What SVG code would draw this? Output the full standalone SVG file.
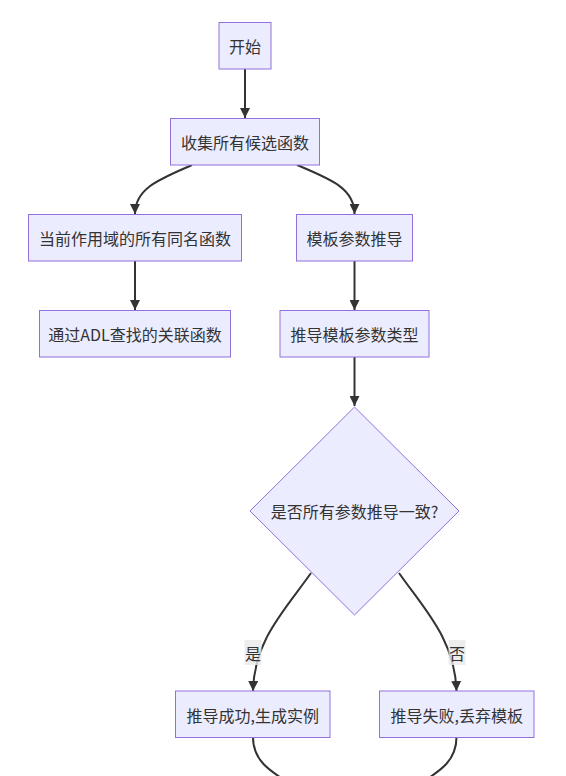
<svg xmlns="http://www.w3.org/2000/svg" width="566" height="776" viewBox="0 0 566 776">
<defs>
<marker id="arr" viewBox="0 0 10 10" refX="10" refY="5" markerWidth="10" markerHeight="10" markerUnits="userSpaceOnUse" orient="auto">
<path d="M0,0 L10,5 L0,10 z" fill="#333"/>
</marker>
</defs>
<style>
.node rect,.node polygon{fill:#ECECFF;stroke:#9370DB;stroke-width:1}
text{font-family:"Noto Sans CJK SC","Liberation Sans",sans-serif;font-size:16px;fill:#333;text-anchor:middle;dominant-baseline:central}
.edges path{fill:none;stroke:#333;stroke-width:2}
.lbl rect{fill:#e8e8e8;opacity:0.8}
</style>
<rect width="566" height="776" fill="#fff"/>
<g class="edges">
<path d="M245,69 L245,118" marker-end="url(#arr)"/>
<path d="M192,165 C160,179 135,188 135,214" marker-end="url(#arr)"/>
<path d="M297,165 C330,179 354.5,188 354.5,214" marker-end="url(#arr)"/>
<path d="M135,261 L135,310" marker-end="url(#arr)"/>
<path d="M354.5,261 L354.5,310" marker-end="url(#arr)"/>
<path d="M354.5,357 L354.5,406" marker-end="url(#arr)"/>
<path d="M311,573 C285,610 254,640 253,691" marker-end="url(#arr)"/>
<path d="M399,573 C425,610 455,640 456.5,691" marker-end="url(#arr)"/>
<path d="M253,737 C253,760 268,770 292,785"/>
<path d="M456.5,737 C456.5,760 442,770 418,785"/>
</g>
<g class="lbl" id="lbl-yes"><rect x="244.5" y="640" width="17" height="25"/><text x="253" y="652.5">是</text></g>
<g class="lbl" id="lbl-no"><rect x="448.5" y="640" width="17" height="25"/><text x="457" y="652.5">否</text></g>
<g class="node" id="start"><rect x="219" y="22.5" width="52" height="46.5"/><text x="245" y="46">开始</text></g>
<g class="node" id="collect"><rect x="170.5" y="118.5" width="149" height="46.5"/><text x="245" y="142">收集所有候选函数</text></g>
<g class="node" id="scope"><rect x="28.5" y="214.5" width="213" height="46.5"/><text x="135" y="238">当前作用域的所有同名函数</text></g>
<g class="node" id="deduce"><rect x="296.5" y="214.5" width="116" height="46.5"/><text x="354.5" y="238">模板参数推导</text></g>
<g class="node" id="adl"><rect x="39.5" y="310.5" width="191" height="46.5"/><text x="135" y="334">通过ADL查找的关联函数</text></g>
<g class="node" id="types"><rect x="280" y="310.5" width="149" height="46.5"/><text x="354.5" y="334">推导模板参数类型</text></g>
<g class="node" id="decide"><polygon points="354.5,407 459,511 354.5,615 250,511"/><text x="354.5" y="511">是否所有参数推导一致?</text></g>
<g class="node" id="ok"><rect x="175.5" y="691" width="154.5" height="46.5"/><text x="252.7" y="714.5">推导成功,生成实例</text></g>
<g class="node" id="fail"><rect x="379.5" y="691" width="154.5" height="46.5"/><text x="456.7" y="714.5">推导失败,丢弃模板</text></g>
</svg>
